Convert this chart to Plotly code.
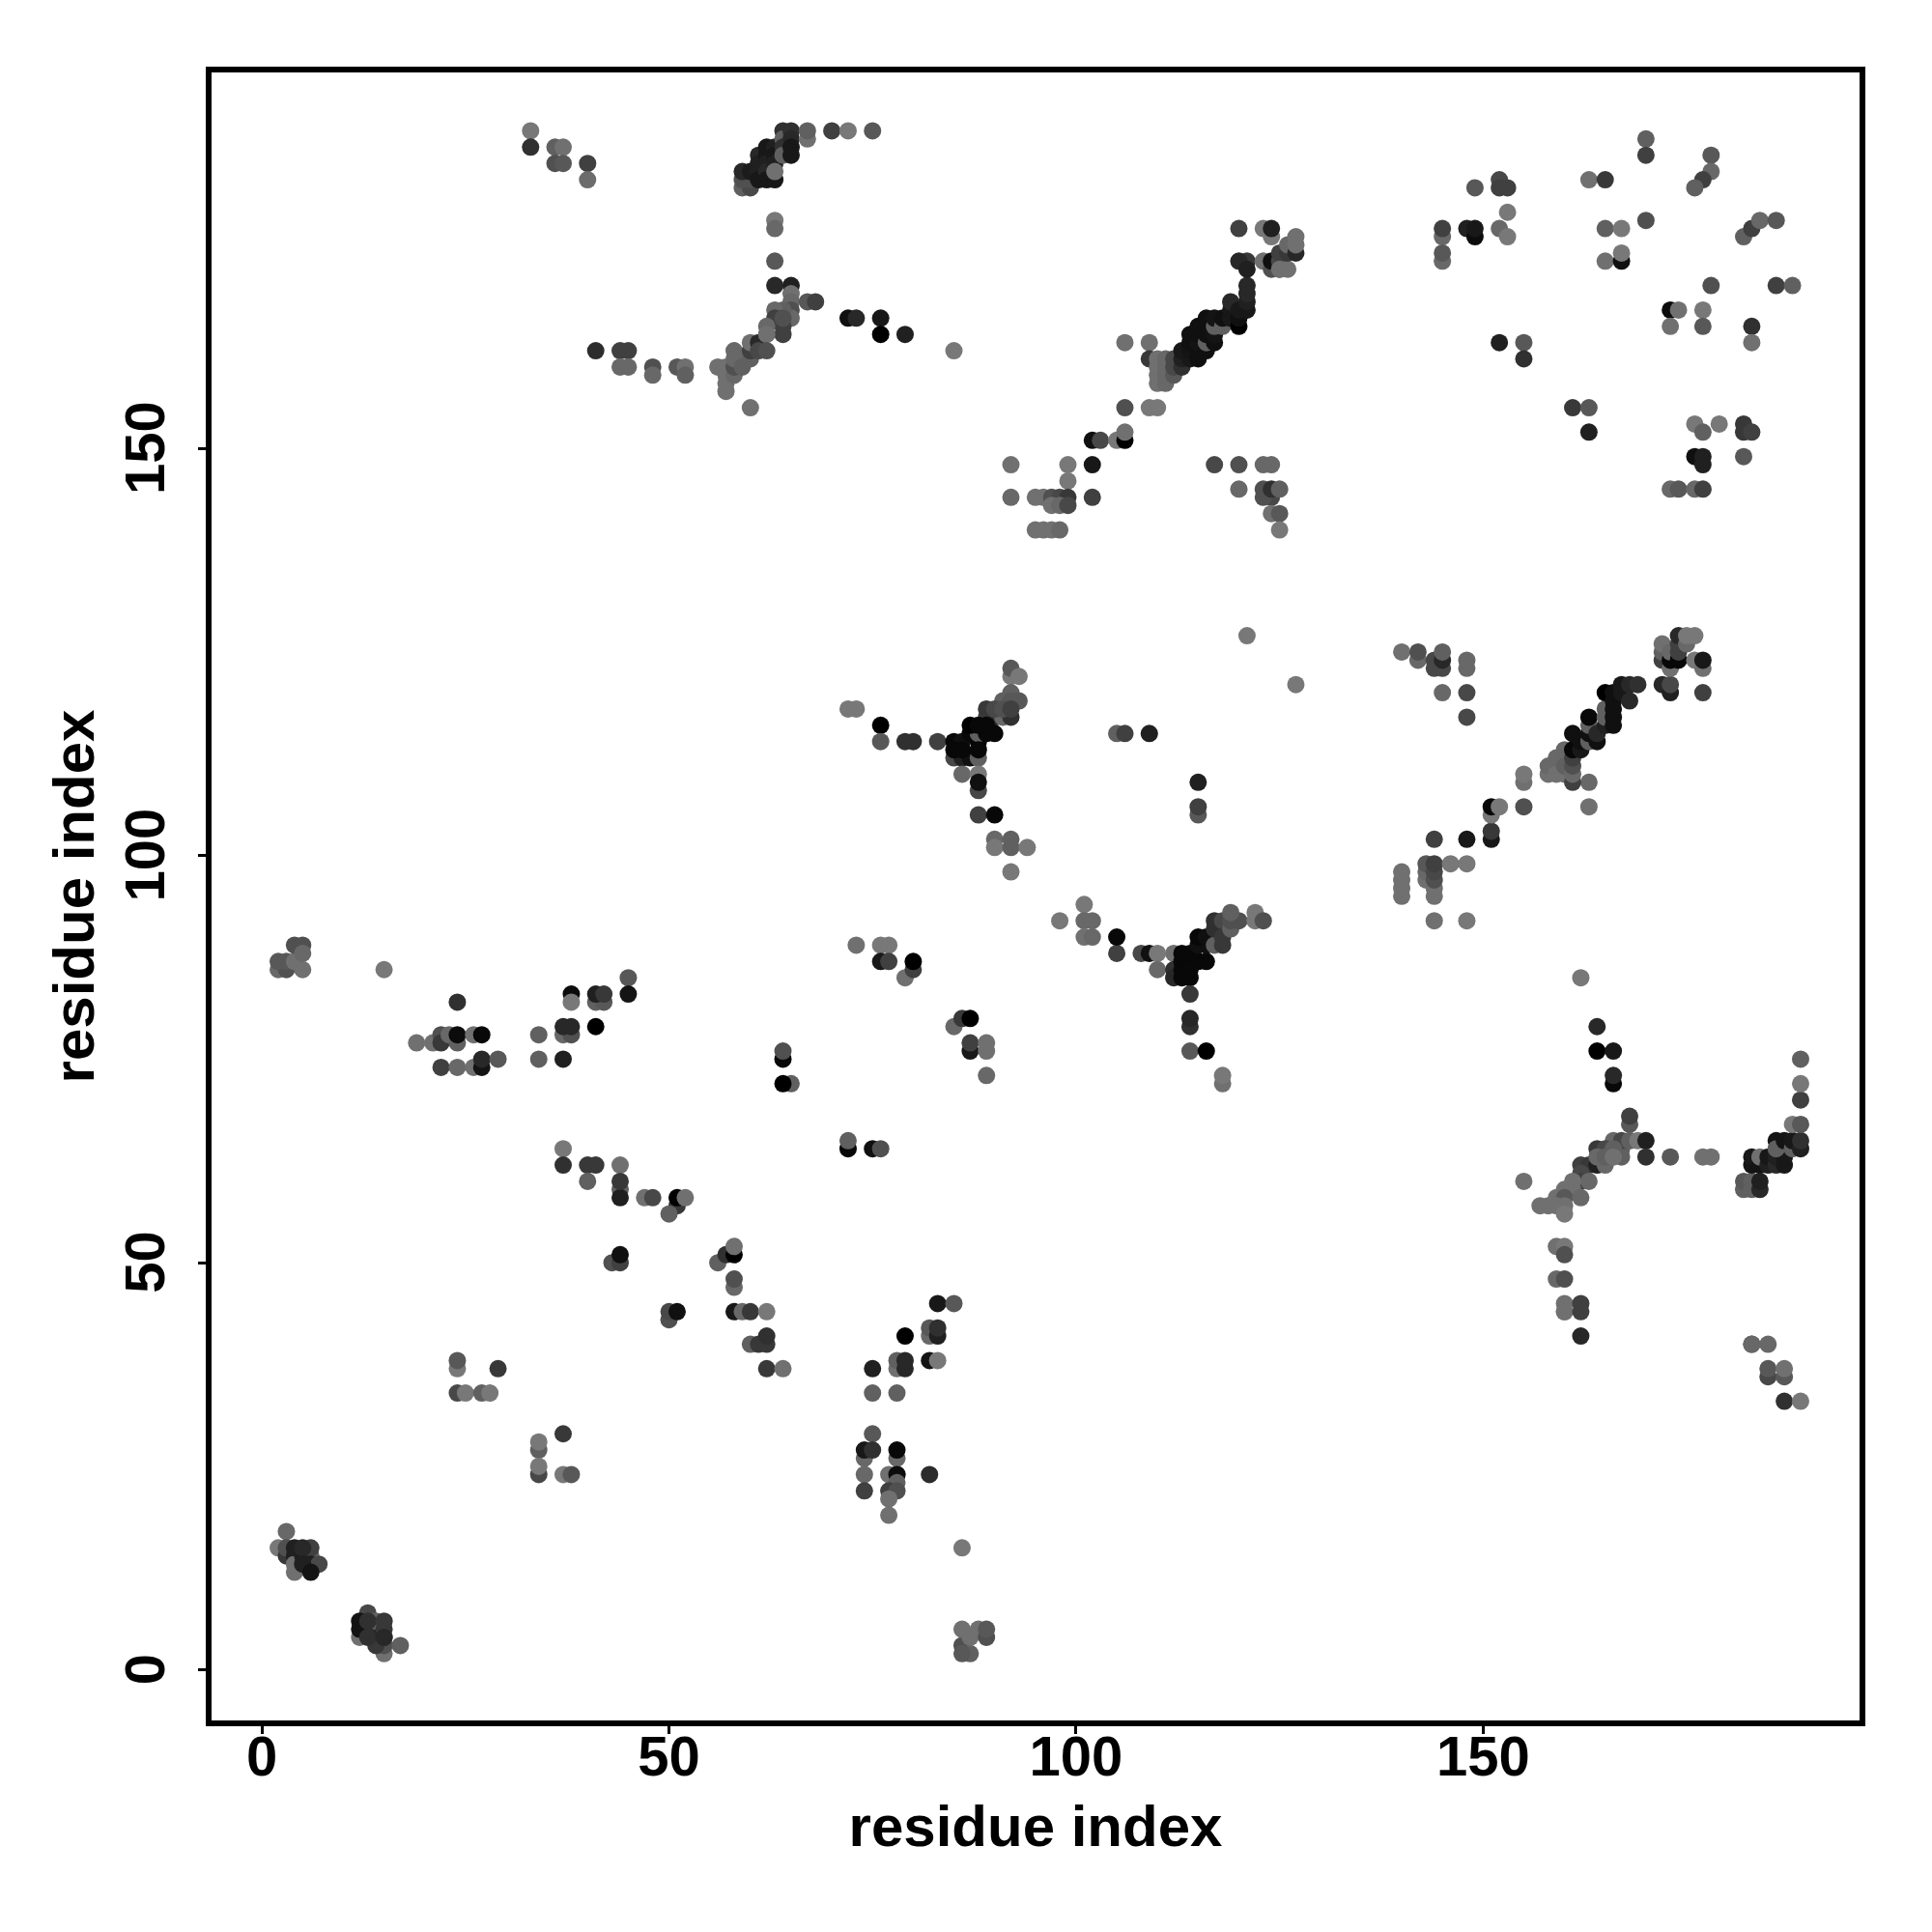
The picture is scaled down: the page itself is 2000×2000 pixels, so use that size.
import plotly.graph_objects as go

# residue pairs, grouped by area of the map
a_x = [33,33,36,37,36,37,40,40,59,60, 59,60,59,60,41,44,45,44,45,48, 48,51,52,52,56,57,57,57,57,58, 58,58,58,59,59,60,60,60,60]
a_y = [189,187,187,187,185,185,185,183,182,182, 183,183,184,184,162,162,162,160,160,160, 159,160,160,159,160,160,159,158,157,159, 160,162,161,161,160,161,162,163,155]
a_g = [0x78,0x30,0x60,0x70,0x50,0x58,0x40,0x6c,0x60,0x48, 0x50,0x50,0x28,0x1c,0x2c,0x40,0x40,0x68,0x68,0x50, 0x68,0x58,0x70,0x60,0x70,0x70,0x70,0x70,0x70,0x68, 0x50,0x68,0x68,0x68,0x60,0x60,0x40,0x70,0x70]

b_x = [61,61,61,61,62,62,62,62,62,63, 63,63,63,63,64,64,64,64,65,65, 65,65,67,67,70,72,75,63,63,63, 63,65,65,65,65,65,67,68,64,63, 63,64,64,62,61,62,61,62,64,72, 73,76,76,79,85]
b_y = [186,185,184,183,187,186,185,184,183,187, 186,185,183,184,189,188,187,186,189,188, 187,186,188,189,189,189,189,178,177,173, 170,170,169,168,167,166,168,168,167,167, 166,165,164,165,163,164,162,162,166,166, 166,166,164,164,162]
b_g = [0x28,0x20,0x20,0x18,0x18,0x18,0x20,0x28,0x18,0x20, 0x18,0x20,0x18,0x70,0x30,0x60,0x30,0x60,0x30,0x28, 0x18,0x18,0x70,0x60,0x40,0x78,0x58,0x78,0x68,0x58, 0x28,0x20,0x70,0x68,0x50,0x68,0x58,0x40,0x60,0x68, 0x40,0x40,0x40,0x68,0x28,0x70,0x48,0x50,0x50,0x10, 0x28,0x18,0x00,0x20,0x78]

c_x = [106,109,109,110,110,110,110,111,111,111, 111,112,112,112,113,113,113,114,114,114, 114,115,115,115,115,115,116,116,116,116, 116,117,117,117,117,118,118,119,119,119, 120,120,120,121,121,121,121]
c_y = [163,163,161,158,159,160,161,158,159,160, 161,159,160,161,160,161,162,161,162,163, 164,161,162,163,164,165,162,163,164,165, 166,163,164,165,166,165,166,166,167,168, 165,166,167,167,168,169,170]
c_g = [0x70,0x70,0x38,0x70,0x70,0x70,0x70,0x68,0x68,0x68, 0x68,0x58,0x48,0x48,0x30,0x20,0x18,0x18,0x14,0x10, 0x10,0x10,0x10,0x14,0x10,0x10,0x10,0x60,0x10,0x10, 0x10,0x10,0x14,0x60,0x14,0x60,0x10,0x18,0x18,0x28, 0x00,0x10,0x18,0x18,0x20,0x28,0x28]

d_x = [106,109,110,102,103,105,106,106,92,99, 102,99,92,95,96,97,98,99,102,97, 98,99,95,96,97,98,117,120,123,124, 120,123,124,123,124,125,124,125,125,120, 123,124,124,121,120,121,123,124,124,125, 125,125,125,126,126,126,127,127,127]
d_y = [155,155,155,151,151,151,151,152,148,148, 148,146,144,144,144,144,144,144,144,143, 143,143,140,140,140,140,148,148,148,148, 145,145,144,144,145,145,142,142,140,177, 177,176,177,173,173,172,173,172,173,172, 173,174,172,172,174,175,174,175,176]
d_g = [0x50,0x78,0x78,0x10,0x48,0x78,0x00,0x70,0x70,0x78, 0x18,0x78,0x68,0x70,0x70,0x50,0x48,0x38,0x40,0x70, 0x68,0x48,0x70,0x70,0x70,0x68,0x48,0x50,0x68,0x68, 0x68,0x50,0x48,0x50,0x30,0x60,0x70,0x58,0x78,0x40, 0x78,0x78,0x20,0x38,0x28,0x20,0x70,0x50,0x10,0x58, 0x48,0x40,0x70,0x70,0x38,0x68,0x28,0x70,0x70]

e_x = [170,170,178,178,177,176,163,165,149,152, 152,153,153,145,145,145,145,148,149,149, 152,153,165,167,170,165,167,167,182,183, 184,186,178,186,188,173,174,177,173,177, 183,183,152,155,155,161,163,163,176,179, 177,182,182,183,182,176,177,177,173,174, 176,177]
e_y = [188,186,186,184,183,182,183,183,182,183, 182,182,179,176,177,173,174,177,176,177, 177,176,177,177,178,173,173,174,176,177, 178,178,170,170,170,167,167,167,165,165, 165,163,163,163,161,155,155,152,153,153, 152,153,152,152,149,149,148,149,145,145, 145,145]
e_g = [0x60,0x40,0x58,0x68,0x40,0x60,0x70,0x38,0x58,0x48, 0x40,0x40,0x78,0x68,0x40,0x68,0x58,0x20,0x0c,0x18, 0x68,0x78,0x60,0x78,0x50,0x70,0x10,0x78,0x60,0x40, 0x68,0x58,0x50,0x40,0x60,0x0c,0x70,0x78,0x70,0x58, 0x30,0x70,0x20,0x58,0x30,0x38,0x58,0x20,0x78,0x78, 0x60,0x38,0x38,0x40,0x58,0x10,0x20,0x20,0x68,0x58, 0x68,0x40]

f_x = [2,3,2,3,4,5,4,5,5,15, 24,45,45,38,38,41,42,41,42,41, 37,38,37,38,34,34,37,19,21,22, 22,23,24,24,26,27,22,24,26,27, 27,29,37,37,40,41,44]
f_y = [86,86,87,87,87,86,89,89,88,86, 82,85,83,83,82,82,82,83,83,79, 78,78,79,79,78,75,75,77,77,78, 77,78,77,78,78,78,74,74,74,74, 75,75,64,62,62,62,62]
f_g = [0x68,0x50,0x58,0x58,0x70,0x70,0x50,0x50,0x68,0x78, 0x30,0x58,0x14,0x0c,0x78,0x60,0x58,0x20,0x38,0x00, 0x68,0x50,0x28,0x28,0x60,0x60,0x20,0x70,0x70,0x50, 0x38,0x68,0x60,0x0c,0x70,0x08,0x40,0x68,0x70,0x14, 0x28,0x58,0x78,0x30,0x38,0x38,0x70]

g_x = [40,44,44,44,47,48,51,51,52,50, 43,44,44,56,57,58,58,58,58,50, 50,51,58,59,60,62,60,61,62,62, 62,64,24,24,29,24,25,27,28,37, 34,34,34,34,37,38]
g_y = [60,59,58,60,58,58,57,58,58,56, 50,50,51,50,51,51,52,47,48,43, 44,44,44,44,44,44,40,40,40,41, 37,37,37,38,37,34,34,34,34,29, 27,28,24,25,24,24]
g_g = [0x60,0x60,0x20,0x38,0x70,0x48,0x38,0x00,0x70,0x60, 0x50,0x40,0x10,0x60,0x30,0x00,0x70,0x68,0x50,0x50, 0x48,0x10,0x18,0x68,0x38,0x78,0x60,0x38,0x38,0x30, 0x38,0x70,0x78,0x58,0x38,0x48,0x78,0x60,0x78,0x38, 0x60,0x78,0x48,0x78,0x78,0x58]

h_x = [3,2,3,3,4,6,4,5,6,4, 5,6,7,4,5,6,15,15,15,14, 14,12,13,13,12,14,12,13,15,15, 13,15,17]
h_y = [17,15,14,15,14,14,13,14,15,15, 15,13,13,12,13,12,2,3,4,4, 3,4,5,7,5,6,6,6,5,6, 4,4,3]
h_g = [0x68,0x78,0x38,0x50,0x20,0x60,0x70,0x20,0x40,0x20, 0x28,0x20,0x48,0x70,0x20,0x14,0x70,0x50,0x28,0x20, 0x38,0x70,0x28,0x48,0x14,0x60,0x14,0x30,0x38,0x38, 0x30,0x28,0x60]

i_x = [83,85,79,82,82,83,83,78,78,79, 79,82,83,75,75,78,75,78,74,74, 75,78,78,74,77,78,82,78,74,77, 78,77,77,86,86,87,86,87,88,89, 89]
i_y = [45,45,41,41,42,41,42,37,38,37, 38,38,38,37,34,34,29,26,26,27, 27,27,24,24,24,24,24,23,22,22, 22,21,19,15,3,2,2,4,5,4, 5]
i_g = [0x18,0x58,0x00,0x68,0x58,0x20,0x30,0x70,0x60,0x28, 0x28,0x14,0x78,0x20,0x60,0x60,0x58,0x68,0x68,0x18, 0x30,0x08,0x70,0x68,0x70,0x0c,0x2c,0x60,0x40,0x40, 0x50,0x70,0x70,0x78,0x50,0x60,0x58,0x70,0x70,0x50, 0x58]
i2_x = [86]
i2_y = [5]
i2_g = [0x70]

j_x = [121,127,72,73,76,76,79,80,83,92, 92,93,91,92,92,93,89,90,91,92, 89,90,91,92,85,86,87,88,85,86, 88,87,88,89,87,88,89,90,85,86, 88,86,88,88,88,88,90,90,92,90, 92,94,92,105,106,109,115,115,115]
j_y = [127,121,118,118,116,114,114,114,114,122, 123,122,119,120,119,119,117,117,117,117, 118,118,118,118,112,112,112,112,114,114, 114,115,115,115,116,116,116,115,113,113, 113,110,110,108,109,105,105,102,102,101, 101,101,98,115,115,115,109,105,106]
j_g = [0x78,0x78,0x78,0x78,0x00,0x58,0x30,0x30,0x40,0x78, 0x58,0x78,0x60,0x60,0x58,0x58,0x40,0x30,0x68,0x30, 0x38,0x48,0x50,0x40,0x48,0x20,0x10,0x60,0x08,0x10, 0x05,0x08,0x60,0x08,0x00,0x08,0x08,0x08,0x08,0x08, 0x08,0x68,0x78,0x48,0x10,0x40,0x08,0x68,0x60,0x78, 0x60,0x78,0x78,0x60,0x40,0x20,0x20,0x58,0x40]

k_x = [73,76,77,76,77,79,80,80,85,86, 87,87,87,89,89,89,64,64,65,64, 72,72,75,76]
k_y = [89,89,89,87,87,85,86,87,79,80, 80,76,77,76,77,73,75,76,72,72, 64,65,64,64]
k_g = [0x70,0x78,0x78,0x18,0x40,0x70,0x40,0x00,0x68,0x38, 0x00,0x18,0x40,0x70,0x70,0x68,0x08,0x50,0x60,0x00, 0x08,0x60,0x10,0x50]

l_x = [98,101,101,102,101,102,105,105,108,109, 112,110,110,112,112,113,114,113,114,115, 116,113,114,113,114,114,114,114,114,116, 118,118,115,116,115,116,117,118,117,117, 118,118,119,119,120,119,122,122,123]
l_y = [92,94,92,92,90,90,88,90,88,88, 88,88,86,86,85,88,88,87,87,87, 87,86,86,85,85,83,79,80,76,76, 72,73,89,89,90,90,89,89,91,92, 92,90,91,92,92,93,92,93,92]
l_g = [0x78,0x78,0x68,0x68,0x70,0x68,0x40,0x08,0x48,0x10, 0x70,0x78,0x68,0x30,0x28,0x08,0x08,0x08,0x08,0x08, 0x08,0x08,0x08,0x08,0x08,0x38,0x30,0x28,0x58,0x00, 0x70,0x78,0x10,0x10,0x08,0x10,0x60,0x38,0x30,0x30, 0x48,0x38,0x60,0x50,0x50,0x60,0x78,0x78,0x50]

m_x = [140,142,142,144,144,145,145,145,148,148, 145,148,148,144,148,151,151,151,151,152, 155,155,155,163,163]
m_y = [125,124,125,123,124,123,124,125,123,124, 120,120,117,102,102,102,103,105,106,106, 106,109,110,109,106]
m_g = [0x70,0x68,0x50,0x48,0x48,0x48,0x28,0x60,0x68,0x68, 0x68,0x48,0x48,0x40,0x18,0x18,0x38,0x78,0x08,0x78, 0x50,0x70,0x78,0x68,0x70]

n_x = [158,158,159,159,160,160,160,161,161,161, 161,161,161,162,162,163,163,163,163,164, 164,165,165,165,165,166,166,166,166,166, 167,167,168,168,169,172,173,173,177]
n_y = [110,111,110,112,110,111,113,109,110,111, 112,113,115,113,114,114,115,116,117,114, 115,116,117,118,120,116,117,118,119,120, 120,121,119,121,121,121,120,121,120]
n_g = [0x70,0x68,0x70,0x68,0x70,0x60,0x68,0x40,0x68,0x50, 0x40,0x08,0x10,0x18,0x10,0x60,0x10,0x60,0x08,0x10, 0x28,0x20,0x60,0x60,0x00,0x10,0x10,0x10,0x10,0x10, 0x18,0x18,0x28,0x28,0x30,0x28,0x20,0x48,0x40]

o_x = [172,172,172,173,173,173,174,174,174,174, 175,175,176,176,177,177]
o_y = [124,125,126,123,124,125,124,125,126,127, 126,127,124,127,123,124]
o_g = [0x40,0x60,0x70,0x70,0x08,0x68,0x08,0x40,0x40,0x28, 0x68,0x78,0x78,0x78,0x70,0x18]

p_x = [140,140,140,140,143,143,143,144,144,144, 144,144,146,148,144,148,162,164,164,166, 166,166,189,189,189]
p_y = [95,96,97,98,97,98,99,95,96,97, 98,99,99,99,92,92,85,79,76,76, 72,73,70,72,75]
p_g = [0x70,0x70,0x70,0x70,0x70,0x68,0x58,0x70,0x70,0x50, 0x48,0x40,0x78,0x78,0x70,0x78,0x78,0x28,0x00,0x18, 0x08,0x28,0x40,0x78,0x60]

q_x = [168,168,167,167,166,167,168,169,170,170, 173,177,178,164,165,166,162,163,164,165, 164,165,166,162,162,163,161,155,161,160, 159,160,162,157,158,159,160,160,159,160, 160,159,160,160,160,162,160,162,162,183, 185,185,185,187,187,187,189]
q_y = [67,68,63,64,65,65,65,65,65,63, 63,63,63,64,64,64,62,62,62,62, 63,63,63,61,60,60,60,60,59,59, 58,58,58,57,57,57,57,56,52,52, 51,48,48,45,44,45,44,44,41,40, 36,37,40,36,37,33,33]
q_g = [0x58,0x40,0x60,0x60,0x68,0x48,0x60,0x78,0x20,0x30, 0x58,0x70,0x70,0x38,0x48,0x60,0x40,0x38,0x20,0x68, 0x68,0x60,0x70,0x48,0x40,0x68,0x70,0x70,0x70,0x70, 0x70,0x58,0x68,0x70,0x70,0x70,0x70,0x78,0x70,0x78, 0x50,0x68,0x50,0x70,0x70,0x40,0x70,0x40,0x28,0x40, 0x48,0x58,0x68,0x58,0x70,0x30,0x78]
q2_x = [183]
q2_y = [40]
q2_g = [0x68]

r_x = [182,182,183,183,184,184,183,183,184,184, 185,185,186,186,186,187,187,187,186,187, 188,188,189,189,188,189]
r_y = [59,60,59,60,59,60,62,63,62,63, 62,63,62,63,65,62,63,64,64,65, 64,65,64,65,67,67]
r_g = [0x60,0x58,0x60,0x60,0x28,0x20,0x14,0x18,0x14,0x70, 0x20,0x18,0x28,0x20,0x14,0x18,0x18,0x18,0x60,0x14, 0x60,0x18,0x20,0x30,0x78,0x58]

groups = [
    (a_x, a_y, a_g), (b_x, b_y, b_g), (c_x, c_y, c_g), (d_x, d_y, d_g),
    (e_x, e_y, e_g), (f_x, f_y, f_g), (g_x, g_y, g_g), (h_x, h_y, h_g),
    (i_x, i_y, i_g), (i2_x, i2_y, i2_g), (j_x, j_y, j_g), (k_x, k_y, k_g),
    (l_x, l_y, l_g), (m_x, m_y, m_g), (n_x, n_y, n_g), (o_x, o_y, o_g),
    (p_x, p_y, p_g), (q_x, q_y, q_g), (q2_x, q2_y, q2_g), (r_x, r_y, r_g),
]
tick_vals = [0, 50, 100, 150]
tick_text = ["0", "50", "100", "150"]

xs, ys, cs = [], [], []
for gx, gy, gg in groups:
    for px, py, pg in zip(gx, gy, gg, strict=True):
        xs.append(px)
        ys.append(py)
        cs.append(f"rgb({pg},{pg},{pg})")

fig = go.Figure(go.Scatter(
    x=xs, y=ys, mode="markers",
    marker=dict(size=18, color=cs, line=dict(width=0)),
    showlegend=False,
))
font = dict(family="Liberation Sans", size=58, color="black")
title_font = dict(family="Liberation Sans", size=60, color="black")
axis = dict(
    showline=True, linecolor="black", linewidth=5.5, mirror=True,
    showgrid=False, zeroline=False, ticks="outside", ticklen=8, tickwidth=3,
    tickcolor="black", tickmode="array", tickvals=tick_vals, tickfont=font,
)
fig.update_layout(
    width=2000, height=2000, paper_bgcolor="white", plot_bgcolor="white",
    margin=dict(l=218.5, r=75, t=75, b=219, autoexpand=False),
    xaxis=dict(axis, range=[-6.19, 196.24], ticklabelstandoff=-26,
               ticktext=[f"<b>{t}</b>" for t in tick_text],
               title=dict(text="<b>residue index</b>", font=title_font, standoff=22)),
    yaxis=dict(axis, range=[-6.2, 196.17], tickangle=-90, ticklabelstandoff=12,
               ticktext=[f"<b>{t}</b>\u00a0" for t in tick_text],
               title=dict(text="<b>residue index</b>", font=title_font, standoff=2.5)),
)
fig.write_html("out.html", post_script="document.body.style.margin='0';",
               config=dict(displayModeBar=False))
